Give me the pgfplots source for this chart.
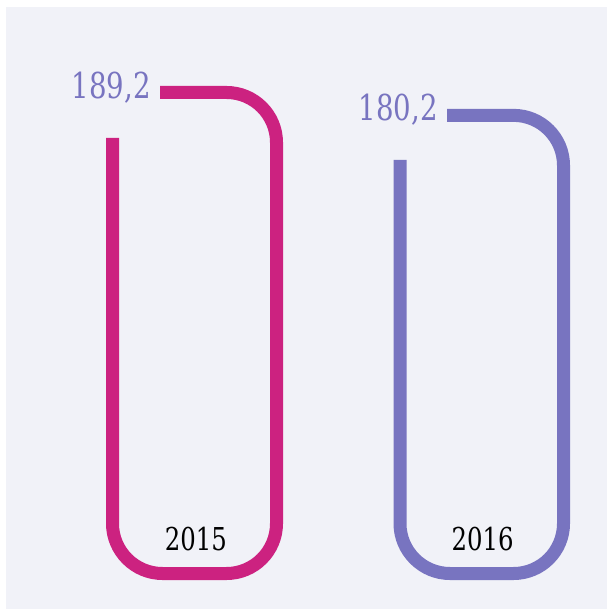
\documentclass[border=0pt]{standalone}
\usepackage{pgfplots}
\pgfplotsset{compat=1.18}
\usepackage{fontspec}
\setmainfont{DejaVu Serif Condensed}[FakeStretch=0.86]
\definecolor{bg}{HTML}{F1F2F8}
\definecolor{mag}{HTML}{CC2280}
\definecolor{pur}{HTML}{7874C0}
\begin{document}
\begin{tikzpicture}
\begin{axis}[
  at={(0,0)}, anchor=south west,
  scale only axis, width=607pt, height=609pt,
  hide axis, clip=false,
  xmin=0, xmax=607, ymin=-13.96, ymax=225.58,
]
\fill[bg] (rel axis cs:0.00988,0) rectangle (rel axis cs:1,0.98851);
% 2015 : 189,2
\addplot[mag, line width=13pt, rounded corners=50pt] coordinates {
  (112.5,171.3) (112.5,0) (276.5,0) (276.5,189.2) (160,189.2)};
% 2016 : 180,2
\addplot[pur, line width=13pt, rounded corners=50pt] coordinates {
  (400,162.65) (400,0) (563.5,0) (563.5,180.2) (447,180.2)};
\node[anchor=base east, pur, inner sep=0pt, font=\fontsize{35.7}{40}\selectfont] at (axis cs:151,187.0) {189,2};
\node[anchor=base east, pur, inner sep=0pt, font=\fontsize{35.7}{40}\selectfont] at (axis cs:438,178.0) {180,2};
\node[anchor=base, black, inner sep=0pt, font=\fontsize{31.5}{36}\selectfont] at (axis cs:196,9.24) {2015};
\node[anchor=base, black, inner sep=0pt, font=\fontsize{31.5}{36}\selectfont] at (axis cs:482.7,9.24) {2016};
\end{axis}
\pgfresetboundingbox
\useasboundingbox (0,0) rectangle (607pt,609pt);
\end{tikzpicture}
\end{document}
